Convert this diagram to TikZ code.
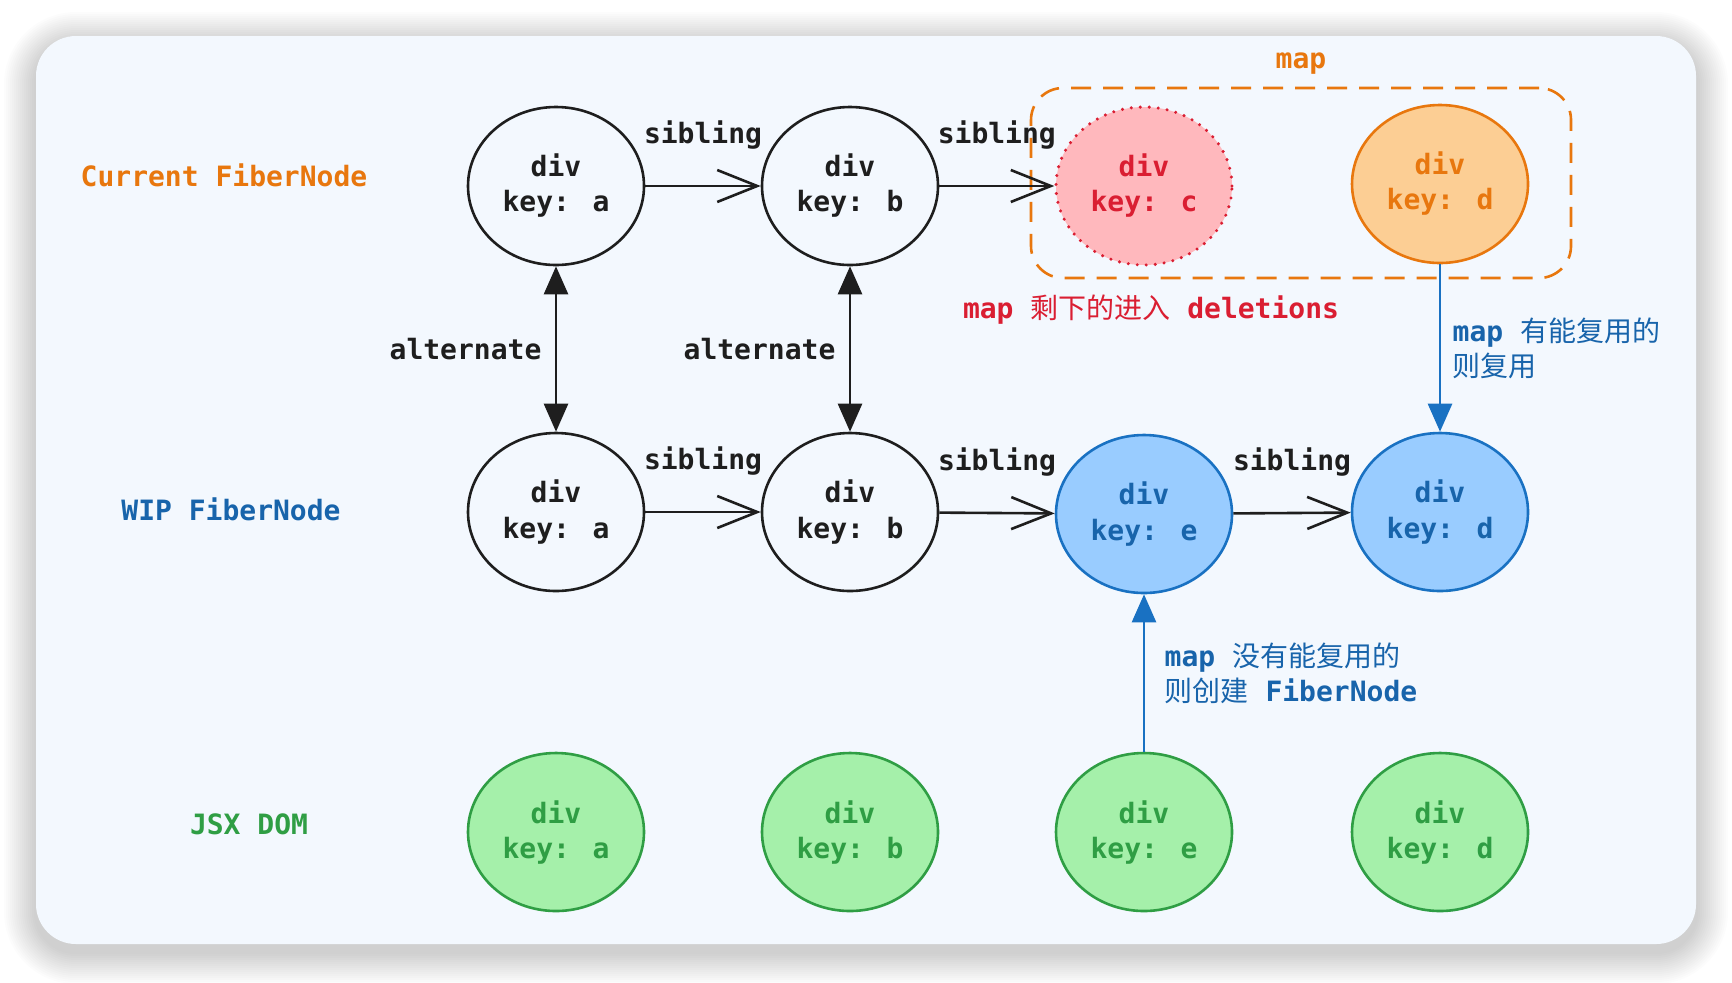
\documentclass[tikz,border=0pt]{standalone}
\usepackage{fontspec}
\setmainfont{DejaVu Sans Mono}[UprightFont=* Bold]
\newfontfamily\cjk{Noto Sans CJK SC}
\usetikzlibrary{arrows.meta}
\usetikzlibrary{shapes}
\usetikzlibrary{positioning}

\definecolor{ink}{HTML}{1E1E1E}
\definecolor{cardfill}{HTML}{F3F8FE}
\definecolor{curtext}{HTML}{E8770E}
\definecolor{delred}{HTML}{DA1E32}
\definecolor{delfill}{HTML}{FFB8BD}
\definecolor{keepfill}{HTML}{FCCE94}
\definecolor{wipblue}{HTML}{1864AB}
\definecolor{wipline}{HTML}{1971C2}
\definecolor{wipfill}{HTML}{99CCFF}
\definecolor{jsxgreen}{HTML}{2F9E44}
\definecolor{jsxfill}{HTML}{A5F0AA}

\begin{document}
\begin{tikzpicture}[x=0.5pt,y=-0.5pt]
  \fontsize{14}{17.5}\selectfont
  \useasboundingbox (0,0) rectangle (1732,982);

%% card with a soft shadow
  \foreach \s in {32,30,...,2}
    \fill[black,opacity=0.012,rounded corners=20pt+\s*0.5pt] (36-\s,36-\s+8) rectangle (1696+\s,944+\s+8);
  \fill[cardfill,rounded corners=20pt] (36,36) rectangle (1696,944);

  \tikzstyle{fiber}=[ellipse,draw=ink,line width=1.3pt,minimum width=88pt,minimum height=79pt,
                     align=center,inner sep=0pt,text=ink]

%% row titles
  \node[text=curtext]  (cur-label) at (224,175) {Current FiberNode};
  \node[text=wipblue]  (wip-label) at (231,509) {WIP FiberNode};
  \node[text=jsxgreen] (jsx-label) at (249,824) {JSX DOM};

%% map box round the old fibers
  \node[draw=curtext,line width=1.3pt,dash pattern=on 10pt off 6pt,rounded corners=16pt,
        minimum width=270pt,minimum height=95pt] (map-box) at (1301,183) {};
  \node[text=curtext,anchor=south,inner sep=0pt] (map-label) at ([yshift=6pt] map-box.north) {map};

%% current fibers
  \node[fiber] (cur-a) at (556,186) {div\\key: a};
  \node[fiber] (cur-b) at (850,186) {div\\key: b};
  \node[fiber,draw=delred,fill=delfill,text=delred,line width=1.7pt,
        dash pattern=on 0pt off 4.5pt,line cap=round] (cur-c) at (1144,186) {div\\key: c};
  \node[fiber,draw=curtext,fill=keepfill,text=curtext] (cur-d) at (1440,184) {div\\key: d};
  \node[text=delred] (del-note) at (1151,310) {map {\cjk 剩下的进入} deletions};

%% wip fibers
  \node[fiber] (wip-a) at (556,512) {div\\key: a};
  \node[fiber] (wip-b) at (850,512) {div\\key: b};
  \node[fiber,draw=wipline,fill=wipfill,text=wipblue] (wip-e) at (1144,514) {div\\key: e};
  \node[fiber,draw=wipline,fill=wipfill,text=wipblue] (wip-d) at (1440,512) {div\\key: d};

%% jsx elements
  \foreach \k/\x in {a/556, b/850, e/1144, d/1440}
    \node[fiber,draw=jsxgreen,fill=jsxfill,text=jsxgreen] (jsx-\k) at (\x,832) {div\\key: \k};

%% draw connections
  \tikzstyle{sib}=[draw=ink,line width=1.3pt,-{Straight Barb[length=20pt,width=16pt]}]
  \tikzstyle{alt}=[draw=ink,line width=1.3pt,{Triangle[length=14pt,width=12pt]}-{Triangle[length=14pt,width=12pt]}]
  \tikzstyle{reuse}=[draw=wipline,line width=1.3pt,-{Triangle[length=14pt,width=12pt]}]

  \foreach \from/\to in {cur-a/cur-b, cur-b/cur-c, wip-a/wip-b, wip-b/wip-e, wip-e/wip-d}
    \draw[sib] (\from) -- (\to) node[midway,above=13pt,text=ink] {sibling};
  \foreach \col in {a,b}
    \draw[alt] (cur-\col) -- (wip-\col) node[midway,left=2pt,text=ink] {alternate};

  \draw[reuse] (cur-d) -- (wip-d)
    node[midway,right=1pt,align=left,text=wipblue] {map {\cjk 有能复用的}\\{\cjk 则复用}};
  \draw[reuse] (jsx-e) -- (wip-e)
    node[midway,right=5pt,align=left,text=wipblue] {map {\cjk 没有能复用的}\\{\cjk 则创建} FiberNode};
\end{tikzpicture}
\end{document}
